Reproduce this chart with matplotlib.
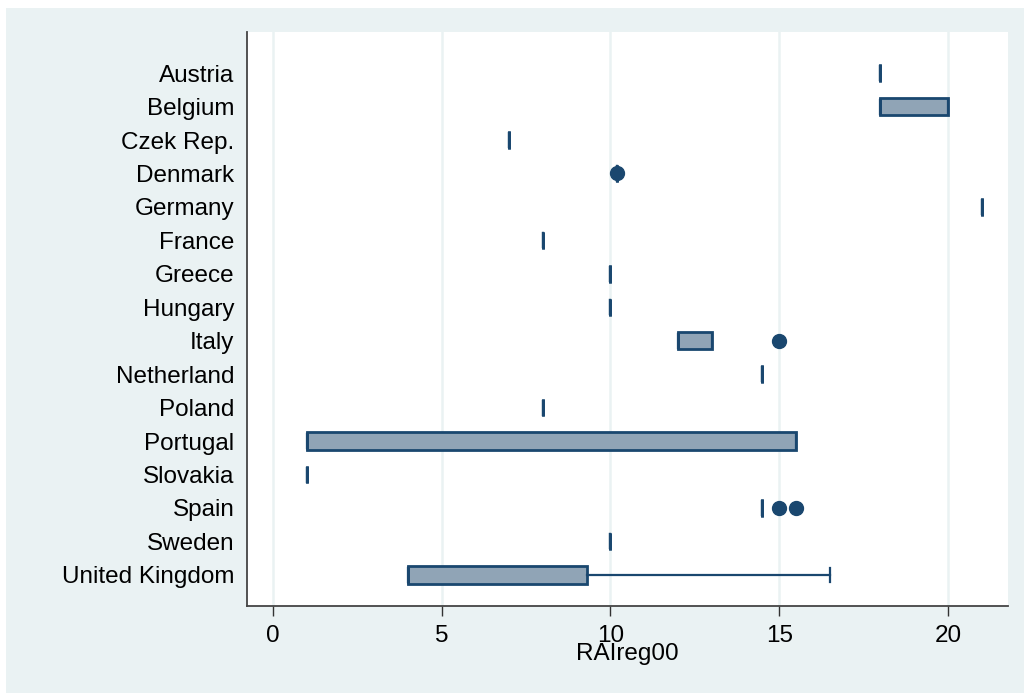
import matplotlib.pyplot as plt
from matplotlib.patches import Rectangle

# countries from top to bottom
countries = ['Austria', 'Belgium', 'Czek Rep.', 'Denmark', 'Germany', 'France',
             'Greece', 'Hungary', 'Italy', 'Netherland', 'Poland', 'Portugal',
             'Slovakia', 'Spain', 'Sweden', 'United Kingdom']

# box statistics of RAIreg00
q1 = [18, 18, 7, 10.2, 21, 8, 10, 10, 12, 14.5, 8, 1, 1, 14.5, 10, 4]
med = [18, 18, 7, 10.2, 21, 8, 10, 10, 12, 14.5, 8, 1, 1, 14.5, 10, 4]
q3 = [18, 20, 7, 10.2, 21, 8, 10, 10, 13, 14.5, 8, 15.5, 1, 14.5, 10, 9.3]
whislo = [18, 18, 7, 10.2, 21, 8, 10, 10, 12, 14.5, 8, 1, 1, 14.5, 10, 4]
whishi = [18, 20, 7, 10.2, 21, 8, 10, 10, 13, 14.5, 8, 15.5, 1, 14.5, 10, 16.5]
outliers = [[], [], [], [10.2], [], [], [], [], [15], [], [], [], [], [15, 15.5], [], []]

navy = '#1a476f'
fill = '#90a4b6'
bg = '#eaf2f3'

plt.rcParams['font.family'] = ['Liberation Sans', 'DejaVu Sans']

fig = plt.figure(figsize=(10.24, 6.93), dpi=100, facecolor='white')
# light outer frame of the graph region, thin white margin at top/left
fig.patches.append(Rectangle((6 / 1024, 0), 1 - 6 / 1024, 1 - 8 / 693,
                             transform=fig.transFigure, facecolor=bg,
                             edgecolor='none', zorder=-10))
ax = fig.add_axes([247 / 1024, 87 / 693, 761 / 1024, 574 / 693])
ax.set_facecolor('white')

stats = []
for i in range(len(countries)):
    stats.append({'label': countries[i], 'q1': q1[i], 'med': med[i], 'q3': q3[i],
                  'whislo': whislo[i], 'whishi': whishi[i], 'fliers': outliers[i]})

pos = list(range(len(countries), 0, -1))
ax.bxp(stats, positions=pos, vert=False, widths=0.52, patch_artist=True,
       capwidths=0.42,
       boxprops=dict(facecolor=fill, edgecolor=navy, linewidth=2),
       medianprops=dict(color=navy, linewidth=2),
       whiskerprops=dict(color=navy, linewidth=1.6),
       capprops=dict(color=navy, linewidth=1.6),
       flierprops=dict(marker='o', markerfacecolor=navy, markeredgecolor=navy, markersize=10))

ax.set_xlim(-0.77, 21.78)
ax.set_ylim(0.07, len(countries) + 1.23)
ax.set_xticks([0, 5, 10, 15, 20])
ax.set_yticks(pos)
ax.set_yticklabels(countries)
ax.tick_params(axis='y', length=0, labelsize=17.5, pad=9)
ax.tick_params(axis='x', length=7, width=1.0, labelsize=17.5, pad=7, color='#333333')
ax.xaxis.grid(True, color=bg, linewidth=1.8)
ax.set_axisbelow(True)
for side in ['top', 'right']:
    ax.spines[side].set_visible(False)
for side in ['left', 'bottom']:
    ax.spines[side].set_color('#444444')
    ax.spines[side].set_linewidth(1.3)
ax.set_xlabel('RAIreg00', fontsize=17.5, labelpad=-3)

fig.savefig('out.png', dpi=100, facecolor='white')
